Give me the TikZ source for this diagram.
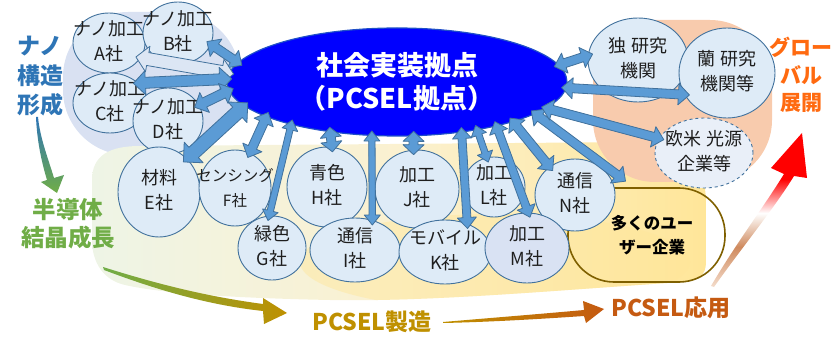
\documentclass[tikz,border=0pt]{standalone}
\usepackage{fontspec}
\setmainfont{Noto Sans CJK JP}
\usetikzlibrary{shapes.geometric,calc}
\definecolor{cfill}{HTML}{DEEBF7}
\definecolor{mfill}{HTML}{D9E2F3}
\definecolor{ofill}{HTML}{E9EFF8}
\definecolor{cborder}{HTML}{41719C}
\definecolor{afill}{HTML}{5B9BD5}
\definecolor{alight}{HTML}{DCE6F4}
\definecolor{aborder}{HTML}{41719C}
\definecolor{hubblue}{HTML}{0000FF}
\definecolor{hubborder}{HTML}{1F4FC8}
\definecolor{lavender}{HTML}{D9E1F2}
\definecolor{salmon}{HTML}{F8CBAD}
\definecolor{palegreen}{HTML}{EEF4E6}
\definecolor{paleyellow}{HTML}{FBF1D0}
\definecolor{gold}{HTML}{FFE699}
\definecolor{tblue}{HTML}{2E75B6}
\definecolor{tgreen}{HTML}{70AD47}
\definecolor{torange}{HTML}{FF6A10}
\definecolor{tgold}{HTML}{BF9000}
\definecolor{tbrown}{HTML}{C55A11}
\definecolor{boxline}{HTML}{7F6000}
\definecolor{redlow}{HTML}{F4DCCB}
\definecolor{redmid}{HTML}{CF8A5E}
\definecolor{txt}{HTML}{1E1E1E}
\pgfdeclareverticalshading{redrise}{100bp}{color(0bp)=(redlow); color(25bp)=(redlow); color(38bp)=(redmid); color(49bp)=(white); color(60bp)=(red); color(100bp)=(red)}
\newcommand\cl[2]{\smash{\makebox[0pt]{\raisebox{-4.3pt}{\begin{tabular}{@{}c@{}}#1\\#2\end{tabular}}}}}
% double block arrow: #1 from, #2 to, #3 shaft half width, #4 head half width, #5 head length, #6 fill
\newcommand\barrow[6]{%
  \path (#1) coordinate (bp1) (#2) coordinate (bp2);
  \path ($(bp1)!-5pt!(bp2)$) coordinate (bq1) ($(bp2)!-5pt!(bp1)$) coordinate (bq2);
  \filldraw[arrowline, fill=#6]
    (bq1) -- ($(bq1)!#5!(bq2)!#4!90:(bq2)$) -- ($(bq1)!#5!(bq2)!#3!90:(bq2)$)
    -- ($(bq2)!#5!(bq1)!#3!-90:(bq1)$) -- ($(bq2)!#5!(bq1)!#4!-90:(bq1)$)
    -- (bq2) -- ($(bq2)!#5!(bq1)!#4!90:(bq1)$) -- ($(bq2)!#5!(bq1)!#3!90:(bq1)$)
    -- ($(bq1)!#5!(bq2)!#3!-90:(bq2)$) -- ($(bq1)!#5!(bq2)!#4!-90:(bq2)$) -- cycle;}
\begin{document}
\begin{tikzpicture}[x=1pt,y=-1pt,
  circ/.style={ellipse, draw=cborder, fill=cfill, line width=0.9pt, inner sep=0pt, text=txt, font=\fontsize{18}{25}\selectfont},
  hub/.style={ellipse, draw=hubborder, fill=hubblue, line width=1.2pt, inner sep=0pt, text=white, align=center, font=\bfseries\fontsize{27}{33}\selectfont},
  arrowline/.style={draw=aborder, line width=0.8pt, line join=round},
  ttl/.style={inner sep=0pt, font=\bfseries\fontsize{23}{23}\selectfont},
  flow/.style={inner sep=0pt, font=\bfseries\fontsize{23}{23}\selectfont},
  userbox/.style={draw=boxline, line width=1.6pt, rounded corners=46pt, inner sep=0pt, align=center, text=black, font=\bfseries\fontsize{16.5}{24}\selectfont}]
\useasboundingbox (0,0) rectangle (832,339);

% ---------- backgrounds ----------
\fill[lavender, rounded corners=65pt] (63,12) rectangle (240,155);
\shade[left color=palegreen, right color=gold, middle color=paleyellow]
  (92,240) -- (92,180) .. controls (92,155) and (110,146) .. (140,146) -- (640,142)
  .. controls (690,142) and (706,165) .. (706,205) -- (706,262)
  .. controls (706,276) and (698,281) .. (682,282)
  .. controls (560,290) and (430,302) .. (330,300)
  .. controls (230,298) and (160,293) .. (125,285)
  .. controls (103,280) and (92,262) .. (92,240) -- cycle;
\begin{scope}
\clip (92,240) -- (92,180) .. controls (92,155) and (110,146) .. (140,146) -- (640,142)
  .. controls (690,142) and (706,165) .. (706,205) -- (706,262)
  .. controls (706,276) and (698,281) .. (682,282)
  .. controls (560,290) and (430,302) .. (330,300)
  .. controls (230,298) and (160,293) .. (125,285)
  .. controls (103,280) and (92,262) .. (92,240) -- cycle;
\fill[gold, opacity=0.45] (495,262) ellipse [x radius=195, y radius=48];
\end{scope}
\fill[salmon, rounded corners=62pt] (593,20) rectangle (772,182);

% ---------- flow swooshes ----------
\shade[top color=tblue, bottom color=tgreen]
  (36,117) .. controls (37,140) and (41,160) .. (47,180) -- (41,182) -- (57,193) -- (64,175) -- (54,178)
  .. controls (48,158) and (40,138) .. (38,117) -- cycle;
\shade[left color=tgreen, right color=tgold]
  (103,267) .. controls (160,285) and (210,297) .. (263,304) -- (263,298) -- (287,313) -- (264,324) -- (263,311)
  .. controls (208,305) and (157,290) .. (104,270) -- cycle;
\shade[left color=tgold, right color=tbrown]
  (443,322) .. controls (490,318) and (540,314) .. (584,310) -- (583,301) -- (604,309) -- (586,323) -- (584,316)
  .. controls (540,319) and (490,322) .. (443,323) -- cycle;
\shade[shading=redrise]
  (711,286) .. controls (735,245) and (765,205) .. (784,174) -- (771,168) -- (802,133) -- (807,178) -- (794,176)
  .. controls (773,210) and (740,250) .. (714,287) -- cycle;

% ---------- side titles ----------
\node[ttl, text=tblue] (t1) at (40,46) {ナノ};
\node[ttl, text=tblue] (t2) at (40,76) {構造};
\node[ttl, text=tblue] (t3) at (40,105) {形成};
\node[ttl, text=tgreen, font=\bfseries\fontsize{23.5}{23.5}\selectfont] (t4) at (68,210) {半導体};
\node[ttl, text=tgreen, font=\bfseries\fontsize{23.5}{23.5}\selectfont] (t5) at (68,238) {結晶成長};
\node[ttl, text=torange, font=\bfseries\fontsize{21}{21}\selectfont] (t6) at (801,47) {グロー};
\node[ttl, text=torange, font=\bfseries\fontsize{21}{21}\selectfont] (t7) at (801,75) {バル};
\node[ttl, text=torange, font=\bfseries\fontsize{21}{21}\selectfont] (t8) at (801,103) {展開};
\node[flow, text=tgold] (f1) at (372,322) {PCSEL製造};
\node[flow, text=tbrown] (f2) at (671,308) {PCSEL応用};

% ---------- user box ----------
\node[userbox, minimum width=157pt, minimum height=94pt] (U) at (646.5,235) {\hspace*{11pt}多くのユー\\\hspace*{11pt}ザー企業};

% ---------- hub ----------
\node[hub, minimum width=340pt, minimum height=108pt] (S) at (397,82) {社会実装拠点\\（PCSEL拠点）};

% ---------- companies ----------
\node[circ, minimum width=72pt, minimum height=60pt] (A) at (109,43) {\cl{ナノ加工}{A社}};
\node[circ, minimum width=70pt, minimum height=62pt] (B) at (178,33) {\cl{ナノ加工}{B社}};
\node[circ, minimum width=74pt, minimum height=60pt] (C) at (110,103) {\cl{ナノ加工}{C社}};
\node[circ, minimum width=70pt, minimum height=66pt] (D) at (168,121) {\cl{ナノ加工}{D社}};
\node[circ, minimum width=82pt, minimum height=90pt] (E) at (159,192) {\cl{材料}{E社}};
\node[circ, minimum width=72pt, minimum height=76pt, font=\fontsize{15.5}{25}\selectfont] (F) at (235,188) {\cl{センシング}{F社}};
\node[circ, minimum width=68pt, minimum height=64pt] (G) at (272,248) {\cl{緑色}{G社}};
\node[circ, minimum width=80pt, minimum height=80pt] (H) at (327,187) {\cl{青色}{H社}};
\node[circ, minimum width=90pt, minimum height=64pt] (I) at (355,250) {\cl{通信}{I社}};
\node[circ, minimum width=84pt, minimum height=78pt] (J) at (417,189) {\cl{加工}{J社}};
\node[circ, minimum width=92pt, minimum height=64pt] (K) at (445,252) {\cl{モバイル}{K社}};
\node[circ, minimum width=62pt, minimum height=60pt] (L) at (494,187) {\cl{加工}{L社}};
\node[circ, minimum width=80pt, minimum height=72pt] (N) at (575,195) {\cl{通信}{N社}};
\node[circ, fill=mfill, minimum width=84pt, minimum height=70pt] (M) at (527,248) {\cl{加工}{M社}};
\node[circ, minimum width=100pt, minimum height=84pt] (D1) at (638,60) {\cl{独 研究}{機関}};
\node[circ, minimum width=96pt, minimum height=90pt] (R1) at (727,73) {\cl{蘭 研究}{機関等}};
\node[circ, fill=ofill, dashed, minimum width=98pt, minimum height=70pt] (E1) at (704,153) {\cl{欧米 光源}{企業等}};

% ---------- block arrows ----------
\barrow{B.341}{S.173}{4.5pt}{10.5pt}{11pt}{afill}
\barrow{A.335}{S.177}{6.5pt}{13pt}{12pt}{alight}
\barrow{C.35}{S.179}{5.5pt}{12pt}{12pt}{afill}
\barrow{D.27}{S.183}{5pt}{11pt}{11pt}{afill}
\barrow{E.50}{S.189}{7pt}{14pt}{14pt}{afill}
\barrow{F.67}{S.195}{4.5pt}{10.5pt}{11pt}{afill}
\barrow{G.95}{S.202}{3.2pt}{8pt}{10pt}{afill}
\barrow{H.83}{S.217}{4.5pt}{10.5pt}{10pt}{afill}
\barrow{I.60}{S.245}{3.2pt}{8pt}{10pt}{afill}
\barrow{J.95}{S.287}{4.5pt}{10.5pt}{10pt}{afill}
\barrow{K.52}{S.322}{4pt}{9.5pt}{11pt}{afill}
\barrow{L.104}{S.329}{3.2pt}{8pt}{10pt}{afill}
\barrow{M.88}{S.336}{4pt}{9.5pt}{11pt}{afill}
\barrow{N.132}{S.341}{4.5pt}{10.5pt}{11pt}{afill}
\barrow{$(U.north)+(-25,-9)$}{S.347}{4.5pt}{10.5pt}{11pt}{afill}
\barrow{E1.162}{S.350}{4.5pt}{10.5pt}{11pt}{afill}
\barrow{R1.207}{S.358}{4.5pt}{10.5pt}{11pt}{afill}
\barrow{D1.175}{S.6}{4.5pt}{10.5pt}{11pt}{afill}
\end{tikzpicture}
\end{document}
